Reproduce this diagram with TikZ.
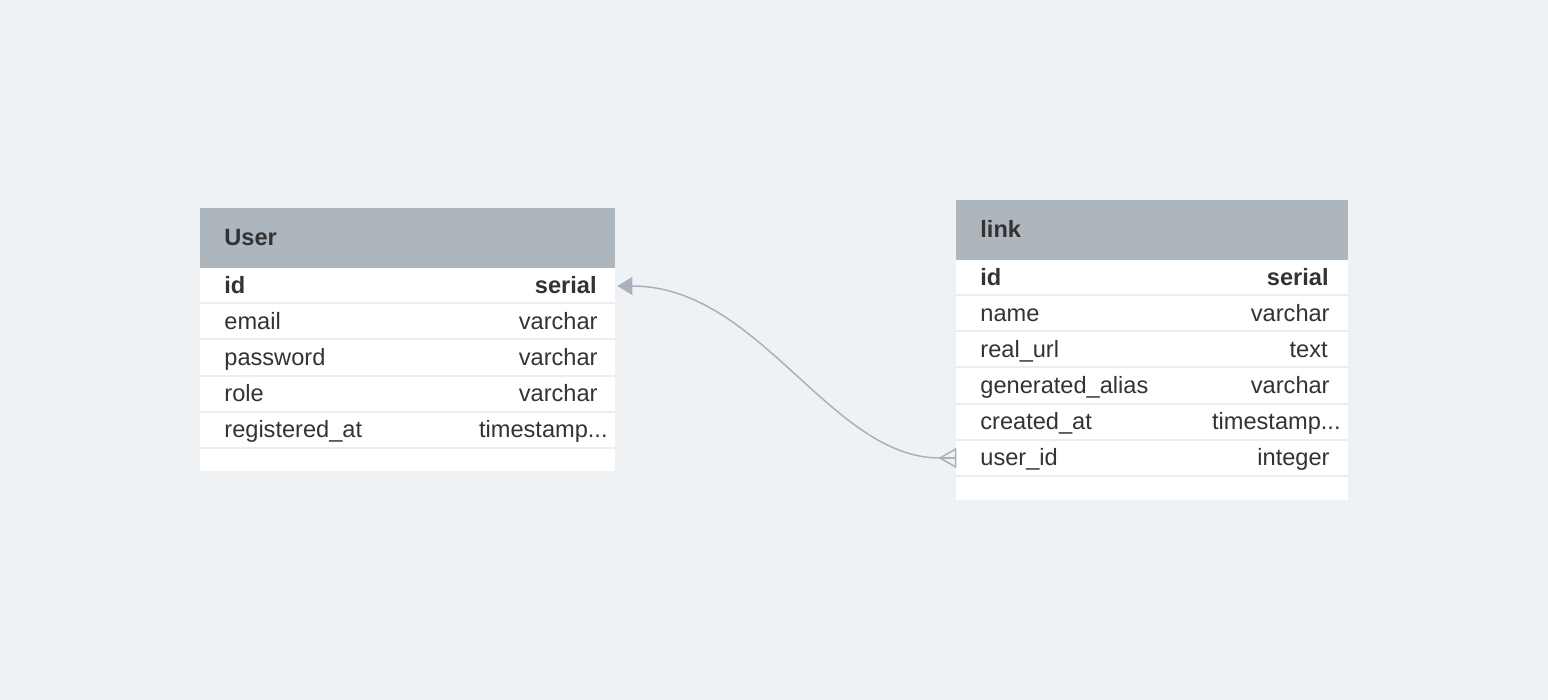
\documentclass[tikz,border=0pt]{standalone}
\usepackage{fontspec}
\setmainfont{Liberation Sans}
\usetikzlibrary{arrows.meta}
\definecolor{bg}{HTML}{EEF2F5}
\definecolor{hdr}{HTML}{ADB5BD}
\definecolor{sep}{HTML}{EBEDEF}
\definecolor{txt}{HTML}{333333}
\definecolor{edgec}{HTML}{A9B1BA}
\tikzset{
  cellfont/.style={font=\fontsize{11.8pt}{14pt}\selectfont},
  lt/.style={anchor=west, inner sep=0pt, text height=10.1pt, text depth=2.4pt, text=txt, cellfont},
  rt/.style={anchor=east, inner sep=0pt, text height=10.1pt, text depth=2.4pt, text=txt, cellfont},
  boldcell/.style={font=\fontsize{11.8pt}{14pt}\selectfont\bfseries},
  ttl/.style={anchor=west, inner sep=0pt, text height=10.1pt, text depth=2.4pt, text=txt, font=\fontsize{11.8pt}{14pt}\selectfont\bfseries},
  rowbox/.style={rectangle, inner sep=0pt, minimum height=17.5pt},
  seprule/.style={draw=sep, line width=1pt},
  rel/.style={draw=edgec, line width=0.75pt},
}
\begin{document}
\begin{tikzpicture}[x=0.5pt,y=-0.5pt]
\fill[bg] (0,0) rectangle (1548,700);
\useasboundingbox (0,0) rectangle (1548,700);

% ---------------- User table ----------------
\fill[hdr] (200,208) rectangle (615,268);
\fill[white] (200,268) rectangle (615,471);
\foreach \y in {303.5,339.5,375.5,411.5,447.5}
  \draw[seprule] (200,\y) -- (615,\y);
\node[ttl] (usert) at (224,238) {User};
\node[rowbox, minimum width=207.5pt] (uid) at (407.5,286) {};
\node[lt, boldcell] (uidn) at (224,286) {id};
\node[rt, boldcell] (uidt) at (597,286) {serial};
\node[lt] (uemn) at (224,322) {email};
\node[rt] (uemt) at (598,322) {varchar};
\node[lt] (upwn) at (224,358) {password};
\node[rt] (upwt) at (598,358) {varchar};
\node[lt] (urln) at (224,394) {role};
\node[rt] (urlt) at (598,394) {varchar};
\node[lt] (urgn) at (224,430) {registered\_at};
\node[rt] (urgt) at (608,430) {timestamp...};

% ---------------- link table ----------------
\fill[hdr] (956,200) rectangle (1348,260);
\fill[white] (956,260) rectangle (1348,500);
\foreach \y in {295.5,331.5,367.5,403.5,439.5,475.5}
  \draw[seprule] (956,\y) -- (1348,\y);
\node[ttl] (linkt) at (980,230) {link};
\node[lt, boldcell] (lidn) at (980,278) {id};
\node[rt, boldcell] (lidt) at (1329,278) {serial};
\node[lt] (lnmn) at (980,314) {name};
\node[rt] (lnmt) at (1330,314) {varchar};
\node[lt] (lrun) at (980,350) {real\_url};
\node[rt] (lrut) at (1328,350) {text};
\node[lt] (lgan) at (980,386) {generated\_alias};
\node[rt] (lgat) at (1330,386) {varchar};
\node[lt] (lcan) at (980,422) {created\_at};
\node[rt] (lcat) at (1341,422) {timestamp...};
\node[rowbox, minimum width=196pt] (luid) at (1152,458) {};
\node[lt] (luidn) at (980,458) {user\_id};
\node[rt] (luidt) at (1330,458) {integer};

% ---------------- relation ----------------
\coordinate (cf) at (940,458);
\draw[rel, -{Triangle[length=7.5pt,width=9pt]}]
  (cf) .. controls (830,458) and (760,286) .. ([xshift=1pt]uid.east);
\draw[rel] ([yshift=4.5pt]luid.west) -- (cf) -- ([yshift=-4.5pt]luid.west) -- cycle;
\draw[rel] (cf) -- (luid.west);
\end{tikzpicture}
\end{document}
